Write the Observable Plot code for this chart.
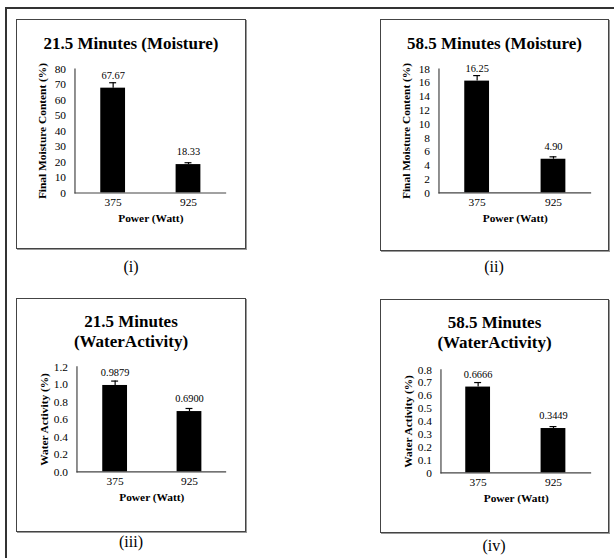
<!DOCTYPE html>
<html><head><meta charset="utf-8">
<script src="https://cdn.jsdelivr.net/npm/d3@7"></script>
<script src="https://cdn.jsdelivr.net/npm/@observablehq/plot@0.6"></script>
<style>
body{margin:0;background:#fff;}
#page{position:relative;width:614px;height:558px;overflow:hidden;font-family:"Liberation Serif","Times New Roman",serif;color:#000;}
#outer{position:absolute;left:5px;top:7px;width:800px;height:800px;border-left:2px solid #333;border-top:2px solid #333;}
.panel{position:absolute;box-sizing:border-box;border:1px solid #444;box-shadow:1px 1px 0 #999;}
.panel svg{position:absolute;left:-1px;top:-1px;}
#page svg, #page svg text{font-family:"Liberation Serif","Times New Roman",serif !important;}
.title{position:absolute;left:0;right:0;text-align:center;font-weight:bold;font-size:17px;line-height:20px;}
.sub{position:absolute;font-size:16px;transform:translate(-50%,-50%);white-space:nowrap;}
</style></head>
<body><div id="page"><div id="outer"></div></div>
<script>
const power = ["375", "925"];

const moisture21 = [67.67, 18.33];
const moisture21Err = [3.5, 1.2];
const moisture21Ticks = [0, 10, 20, 30, 40, 50, 60, 70, 80];
const moisture21TickLabels = ["0", "10", "20", "30", "40", "50", "60", "70", "80"];

const moisture58 = [16.25, 4.90];
const moisture58Err = [0.8, 0.35];
const moisture58Ticks = [0, 2, 4, 6, 8, 10, 12, 14, 16, 18];
const moisture58TickLabels = ["0", "2", "4", "6", "8", "10", "12", "14", "16", "18"];

const water21 = [0.9879, 0.6900];
const water21Err = [0.05, 0.035];
const water21Ticks = [0, 0.2, 0.4, 0.6, 0.8, 1.0, 1.2];
const water21TickLabels = ["0.0", "0.2", "0.4", "0.6", "0.8", "1.0", "1.2"];

const water58 = [0.6666, 0.3449];
const water58Err = [0.035, 0.015];
const water58Ticks = [0, 0.1, 0.2, 0.3, 0.4, 0.5, 0.6, 0.7, 0.8];
const water58TickLabels = ["0", "0.1", "0.2", "0.3", "0.4", "0.5", "0.6", "0.7", "0.8"];

const titles = [["21.5 Minutes (Moisture)"], ["58.5 Minutes (Moisture)"], ["21.5 Minutes", "(WaterActivity)"], ["58.5 Minutes", "(WaterActivity)"]];
const yLabels = ["Final Moisture Content (%)", "Final Moisture Content (%)", "Water Activity (%)", "Water Activity (%)"];
const xLabel = "Power (Watt)";
const subLabels = ["(i)", "(ii)", "(iii)", "(iv)"];

const panels = [
  {box: [16, 19, 230, 230], m: [50, 18, 55, 59], titleTop: 14, values: moisture21, errs: moisture21Err, ticks: moisture21Ticks, tickLabels: moisture21TickLabels, dec: 2, sub: [131, 267]},
  {box: [380, 19, 229, 232], m: [50, 16, 57, 59], titleTop: 14, values: moisture58, errs: moisture58Err, ticks: moisture58Ticks, tickLabels: moisture58TickLabels, dec: 2, sub: [494, 267]},
  {box: [16, 298, 230, 234], m: [69, 18, 59, 61], titleTop: 13, values: water21, errs: water21Err, ticks: water21Ticks, tickLabels: water21TickLabels, dec: 4, sub: [131, 542]},
  {box: [380, 299, 229, 234], m: [71, 16, 59, 61], titleTop: 13, values: water58, errs: water58Err, ticks: water58Ticks, tickLabels: water58TickLabels, dec: 4, sub: [494, 546]}
];

const page = document.getElementById("page");
const font = "Liberation Serif, Times New Roman, serif";

panels.forEach((p, i) => {
  const [left, top, w, h] = p.box;
  const div = document.createElement("div");
  div.className = "panel";
  Object.assign(div.style, {left: left + "px", top: top + "px", width: w + "px", height: h + "px"});
  const data = power.map((k, j) => ({p: k, v: p.values[j], e: p.errs[j], label: p.values[j].toFixed(p.dec)}));
  const fmt = d => p.tickLabels[p.ticks.findIndex(t => Math.abs(t - d) < 1e-9)];
  const chart = Plot.plot({
    width: w, height: h,
    marginTop: p.m[0], marginRight: p.m[1], marginBottom: p.m[2], marginLeft: p.m[3],
    style: {fontFamily: font, fontSize: "11.5px", background: "none", color: "#000", overflow: "visible"},
    x: {domain: power, paddingInner: 0.67, paddingOuter: 0.335, label: null},
    y: {domain: [p.ticks[0], p.ticks[p.ticks.length - 1]], label: null},
    marks: [
      Plot.barY(data, {x: "p", y: "v", fill: "#000"}),
      Plot.ruleX(data, {x: "p", y1: "v", y2: d => d.v + d.e, stroke: "#000", strokeWidth: 1.2}),
      Plot.tickY(data, {x: "p", y: d => d.v + d.e, insetLeft: 9, insetRight: 9, stroke: "#000", strokeWidth: 1.2}),
      Plot.text(data, {x: "p", y: "v", text: "label", dy: -13, fontSize: 10.5, fill: "#000", fontFamily: font}),
      Plot.ruleY([p.ticks[0]], {stroke: "#444", strokeWidth: 1.2}),
      Plot.frame({anchor: "left", stroke: "#444", strokeWidth: 1.2}),
      Plot.axisY({ticks: p.ticks, tickSize: 0, tickPadding: 9, tickFormat: fmt, label: null, fontFamily: font}),
      Plot.axisX({tickSize: 0, tickPadding: 5, label: null, fontFamily: font}),
      Plot.text([yLabels[i]], {frameAnchor: "left", text: d => d, rotate: -90, dx: -33, textAnchor: "middle", fontWeight: "bold", fontSize: 11.5, lineAnchor: "middle", fontFamily: font}),
      Plot.text([xLabel], {frameAnchor: "bottom", text: d => d, dy: 26, textAnchor: "middle", fontWeight: "bold", fontSize: 11.5, lineAnchor: "middle", fontFamily: font})
    ]
  });
  div.appendChild(chart);
  const t = document.createElement("div");
  t.className = "title";
  t.style.top = p.titleTop + "px";
  t.innerHTML = titles[i].join("<br>");
  div.appendChild(t);
  page.appendChild(div);
  const s = document.createElement("div");
  s.className = "sub";
  s.style.left = p.sub[0] + "px";
  s.style.top = p.sub[1] + "px";
  s.textContent = subLabels[i];
  page.appendChild(s);
});
</script></body></html>
